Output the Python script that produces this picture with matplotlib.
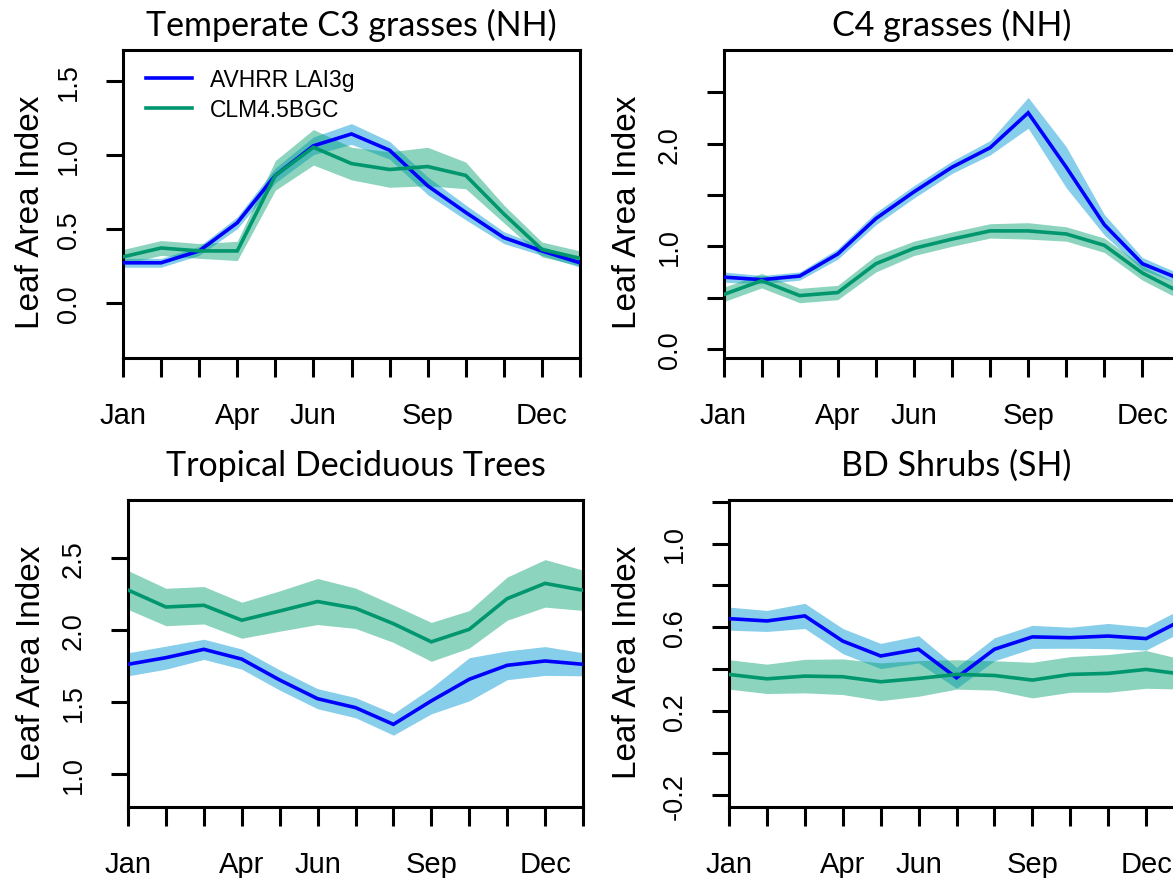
import matplotlib
matplotlib.use("Agg")
import matplotlib.pyplot as plt
from matplotlib.lines import Line2D
import numpy as np

# ---------------- data ----------------
months = list(range(1, 14))
month_labels = ["Jan", "", "", "Apr", "", "Jun", "", "", "Sep", "", "", "Dec", ""]

titles = ["Temperate C3 grasses (NH)", "C4 grasses (NH)",
          "Tropical Deciduous Trees", "BD Shrubs (SH)"]
series_names = ["AVHRR LAI3g", "CLM4.5BGC"]

avhrr1 = [0.27, 0.27, 0.35, 0.54, 0.86, 1.06, 1.14, 1.03, 0.79, 0.61, 0.44, 0.35, 0.27]
avhrr1_sd = [0.03, 0.03, 0.03, 0.04, 0.05, 0.06, 0.07, 0.06, 0.06, 0.05, 0.04, 0.03, 0.03]
clm1 = [0.31, 0.37, 0.35, 0.35, 0.86, 1.05, 0.94, 0.90, 0.92, 0.86, 0.60, 0.36, 0.30]
clm1_sd = [0.05, 0.05, 0.05, 0.065, 0.10, 0.12, 0.11, 0.12, 0.13, 0.09, 0.06, 0.05, 0.05]

avhrr2 = [0.70, 0.675, 0.71, 0.925, 1.27, 1.53, 1.77, 1.96, 2.30, 1.77, 1.21, 0.83, 0.68]
avhrr2_sd = [0.05, 0.04, 0.04, 0.05, 0.06, 0.06, 0.06, 0.07, 0.15, 0.20, 0.10, 0.06, 0.05]
clm2 = [0.53, 0.665, 0.52, 0.55, 0.83, 0.98, 1.07, 1.15, 1.15, 1.12, 1.01, 0.74, 0.55]
clm2_sd = [0.07, 0.07, 0.07, 0.07, 0.08, 0.07, 0.07, 0.07, 0.08, 0.07, 0.07, 0.07, 0.07]

avhrr3 = [1.764, 1.81, 1.868, 1.80, 1.655, 1.525, 1.463, 1.347, 1.51, 1.66, 1.757, 1.787, 1.764]
avhrr3_sd = [0.08, 0.08, 0.07, 0.07, 0.07, 0.07, 0.07, 0.075, 0.09, 0.15, 0.10, 0.10, 0.08]
clm3 = [2.28, 2.162, 2.174, 2.07, 2.134, 2.20, 2.153, 2.046, 1.92, 2.007, 2.22, 2.326, 2.278]
clm3_sd = [0.135, 0.13, 0.13, 0.125, 0.14, 0.16, 0.14, 0.13, 0.135, 0.13, 0.15, 0.165, 0.14]

avhrr4 = [0.642, 0.631, 0.655, 0.535, 0.464, 0.496, 0.36, 0.496, 0.555, 0.551, 0.559, 0.547, 0.64]
avhrr4_sd = [0.055, 0.05, 0.06, 0.06, 0.06, 0.065, 0.05, 0.055, 0.055, 0.05, 0.06, 0.055, 0.055]
clm4 = [0.376, 0.355, 0.368, 0.365, 0.341, 0.357, 0.376, 0.371, 0.349, 0.376, 0.381, 0.40, 0.376]
clm4_sd = [0.07, 0.07, 0.08, 0.085, 0.09, 0.085, 0.07, 0.07, 0.085, 0.085, 0.09, 0.09, 0.07]

yticks1 = [0.0, 0.5, 1.0, 1.5]
yticklabels1 = ["0.0", "0.5", "1.0", "1.5"]
yticks2 = [0.0, 0.5, 1.0, 1.5, 2.0, 2.5]
yticklabels2 = ["0.0", "", "1.0", "", "2.0", ""]
yticks3 = [1.0, 1.5, 2.0, 2.5]
yticklabels3 = ["1.0", "1.5", "2.0", "2.5"]
yticks4 = [-0.2, 0.0, 0.2, 0.4, 0.6, 0.8, 1.0, 1.2]
yticklabels4 = ["-0.2", "", "0.2", "", "0.6", "", "1.0", ""]

# ---------------- style ----------------
W, H = 1173, 879
BLUE = "#0000FF"
BLUE_BAND = "#87CEEB"
GREEN = "#00966E"
GREEN_BAND = "#00A070"
TICK_FONT = "Liberation Sans"
TITLE_FONT = "Lato"

fig = plt.figure(figsize=(W / 100, H / 100), dpi=100)

panels = [
    dict(box=(123, 51, 457, 308), ylim=(-0.373, 1.707), yt=yticks1, ytl=yticklabels1,
         a=avhrr1, asd=avhrr1_sd, c=clm1, csd=clm1_sd, title=titles[0], tb=36, ylx=46),
    dict(box=(723.5, 51, 457, 308), ylim=(-0.088, 2.912), yt=yticks2, ytl=yticklabels2,
         a=avhrr2, asd=avhrr2_sd, c=clm2, csd=clm2_sd, title=titles[1], tb=36, ylx=643),
    dict(box=(128, 501, 455, 307), ylim=(0.773, 2.905), yt=yticks3, ytl=yticklabels3,
         a=avhrr3, asd=avhrr3_sd, c=clm3, csd=clm3_sd, title=titles[2], tb=476, ylx=47),
    dict(box=(729, 501, 455, 307), ylim=(-0.256, 1.2076), yt=yticks4, ytl=yticklabels4,
         a=avhrr4, asd=avhrr4_sd, c=clm4, csd=clm4_sd, title=titles[3], tb=476, ylx=643),
]

axes = []
for i, p in enumerate(panels):
    L, T, w, h = p["box"]
    ax = fig.add_axes([L / W, 1 - (T + h) / H, w / W, h / H])
    axes.append(ax)
    x = np.array(months)
    a = np.array(p["a"]); asd = np.array(p["asd"])
    c = np.array(p["c"]); csd = np.array(p["csd"])
    ax.fill_between(x, a - asd, a + asd, color=BLUE_BAND, lw=0, zorder=1)
    ax.fill_between(x, c - csd, c + csd, color=GREEN_BAND, alpha=0.45, lw=0, zorder=2)
    ax.plot(x, a, color=BLUE, lw=2.6, zorder=3, solid_joinstyle="miter")
    ax.plot(x, c, color=GREEN, lw=2.6, zorder=4, solid_joinstyle="miter")

    ax.set_xlim(1, 13)
    ax.set_ylim(*p["ylim"])
    ax.set_xticks(months)
    ax.set_xticklabels(month_labels, fontfamily=TICK_FONT, fontsize=21)
    ax.set_yticks(p["yt"])
    ax.set_yticklabels(p["ytl"], fontfamily=TICK_FONT, fontsize=19.5,
                       rotation=90, va="center", ha="right")
    for s in ax.spines.values():
        s.set_linewidth(2.2)
    ax.tick_params(axis="x", direction="out", length=13.7, width=2.2, pad=17)
    ax.tick_params(axis="y", direction="out", length=12.5, width=2.2, pad=17)

    ax.set_ylabel("Leaf Area Index", fontfamily=TICK_FONT, fontsize=24)
    ax.yaxis.set_label_coords((p["ylx"] - L) / w, 0.475)

    ax.text(0.5, 1 + (T - p["tb"]) / h, p["title"], transform=ax.transAxes,
            ha="center", va="baseline", fontfamily=TITLE_FONT, fontsize=24.5)

handles = [Line2D([0], [0], color=BLUE, lw=2.6), Line2D([0], [0], color=GREEN, lw=2.6)]
axes[0].legend(handles, series_names, loc="upper left", bbox_to_anchor=(0.02, 0.985),
               frameon=False, prop={"family": TICK_FONT, "size": 16.5},
               handlelength=2.0, handletextpad=0.8, labelspacing=0.3, borderaxespad=0.2)

fig.savefig("out.png", dpi=100)
